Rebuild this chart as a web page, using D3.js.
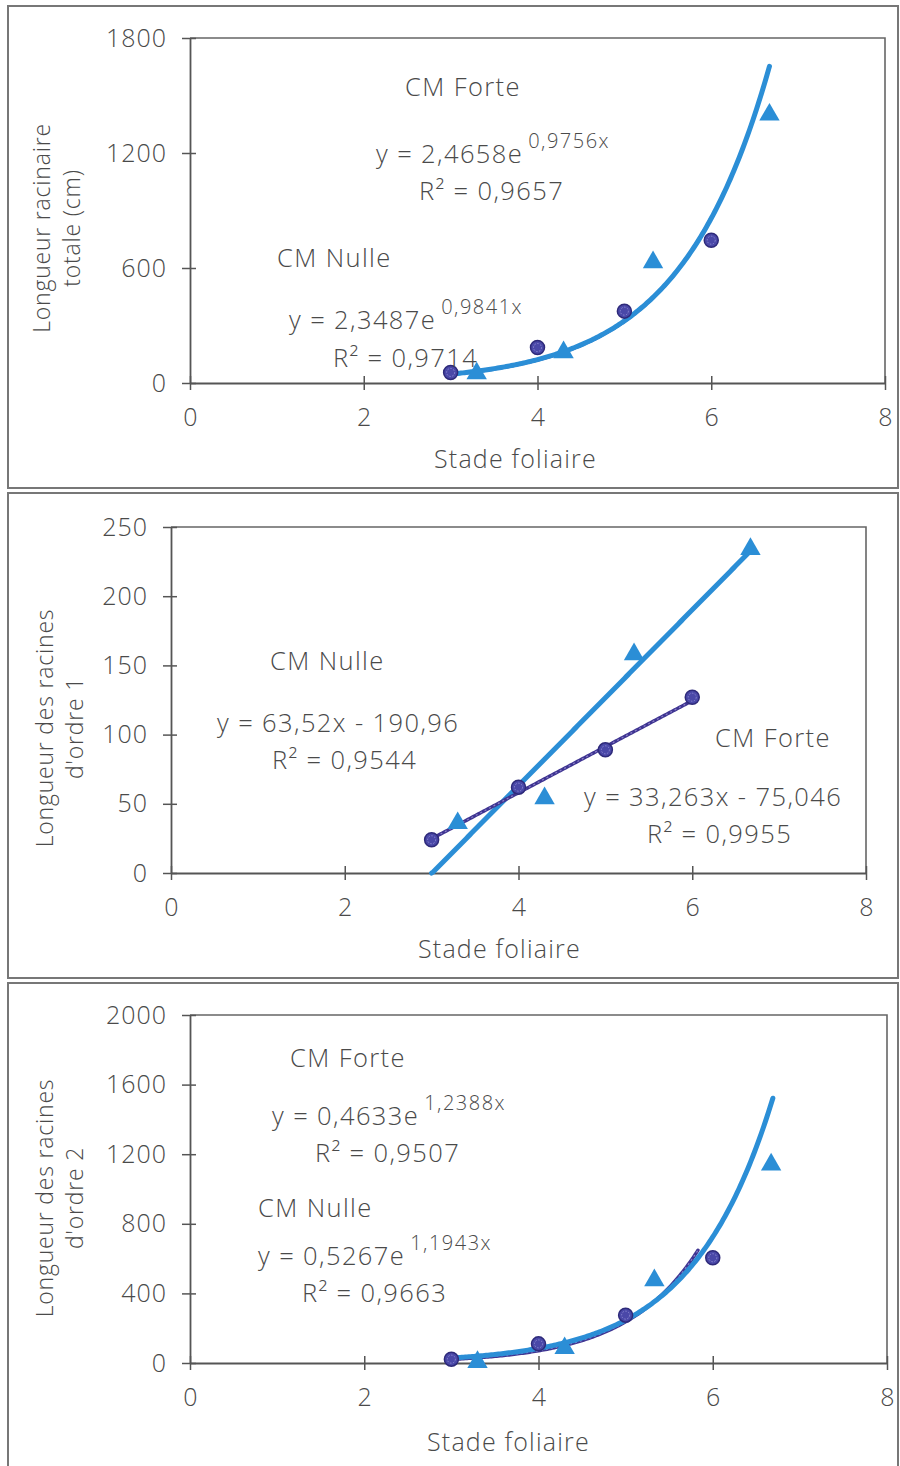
<!DOCTYPE html>
<html><head><meta charset="utf-8">
<script src="https://cdn.jsdelivr.net/npm/d3@7"></script>
<style>
body{margin:0;background:#fff}
svg{display:block}
text{font-family:"Open Sans",sans-serif;font-weight:300;fill:#4a4a4a}
</style>
</head><body>
<svg id="c" width="900" height="1466"></svg>
<script>
// ---------- data ----------
const xTicks = [0, 2, 4, 6, 8];
const nulleX = [3, 4, 5, 6];
const forteX = [3.3, 4.3, 5.33, 6.67];

const totalNulle = [55, 185, 375, 745];
const totalForte = [50, 160, 630, 1400];
const ordre1Nulle = [24, 62, 89, 127];
const ordre1Forte = [36, 54, 158, 234];
const ordre2Nulle = [22, 110, 275, 605];
const ordre2Forte = [5, 85, 475, 1140];

const yTicksTotal = [0, 600, 1200, 1800];
const yTicksOrdre1 = [0, 50, 100, 150, 200, 250];
const yTicksOrdre2 = [0, 400, 800, 1200, 1600, 2000];

// trend lines (as drawn)
const trendTotalForte = {type: "exp", a: 2.4658, b: 0.9756, from: 3, to: 6.67};
const trendTotalNulle = {type: "exp", a: 2.3487, b: 0.9841, from: 3, to: 6};
const trendOrdre1Blue = {type: "lin", a: 63.52, b: -190.96, from: 3, to: 6.67};
const trendOrdre1Purple = {type: "lin", a: 33.263, b: -75.046, from: 3, to: 6};
const trendOrdre2Forte = {type: "exp", a: 1.138, b: 1.076, from: 3, to: 6.69};
const trendOrdre2Nulle = {type: "exp", a: 0.55, b: 1.213, from: 3, to: 5.83};

const xTitle = "Stade foliaire";

// ---------- drawing ----------
const svg = d3.select("#c");
svg.append("rect").attr("width", 900).attr("height", 1466).attr("fill", "#fff");

const BLUE = "#2b8ed6", PURPLE = "#3f3592", CIRC = "#4a48a8";

// panel frames
[[6, 488], [493, 978], [983, 1470]].forEach(([y0, y1]) => {
  svg.append("rect").attr("x", 8).attr("y", y0).attr("width", 890).attr("height", y1 - y0)
    .attr("fill", "none").attr("stroke", "#777").attr("stroke-width", 2);
});

function trendPoints(t) {
  const xs = d3.range(t.from, t.to, 0.02).concat([t.to]);
  return xs.map(x => [x, t.type === "exp" ? t.a * Math.exp(t.b * x) : t.a * x + t.b]);
}

function panel(o) {
  const g = svg.append("g");
  const x = d3.scaleLinear().domain([0, 8]).range([o.left, o.right]);
  const y = d3.scaleLinear().domain([0, o.yMax]).range([o.bottom, o.top]);

  // top & right frame of plot
  g.append("path").attr("d", `M${o.left},${o.top}H${o.right}V${o.bottom}`)
    .attr("fill", "none").attr("stroke", "#666").attr("stroke-width", 1.6);

  // x axis
  const xa = g.append("g").attr("transform", `translate(0,${o.bottom})`)
    .call(d3.axisBottom(x).tickValues(xTicks).tickSize(0).tickPadding(25).tickFormat(d3.format("d")));
  xa.select(".domain").attr("stroke", "#555").attr("stroke-width", 1.8);
  xa.selectAll(".tick text").attr("font-size", 25).style("font-family", '"Open Sans",sans-serif')
    .style("font-weight", 300).attr("fill", "#4a4a4a");
  xa.selectAll(".tick").append("line").attr("y1", -7).attr("y2", 7).attr("stroke", "#555").attr("stroke-width", 1.5);

  // y axis
  const ya = g.append("g").attr("transform", `translate(${o.left},0)`)
    .call(d3.axisLeft(y).tickValues(o.yTicks).tickSize(0).tickPadding(23).tickFormat(d3.format("d")));
  ya.select(".domain").attr("stroke", "#555").attr("stroke-width", 1.8);
  ya.selectAll(".tick text").attr("font-size", 25).style("font-family", '"Open Sans",sans-serif')
    .style("font-weight", 300).style("letter-spacing", "1px").attr("fill", "#4a4a4a");
  ya.selectAll(".tick").append("line").attr("x1", -8).attr("x2", 6).attr("stroke", "#555").attr("stroke-width", 1.5);

  // axis titles
  g.append("text").attr("x", (o.left + o.right) / 2 + o.xTitleDx).attr("y", o.bottom + o.xTitleDy)
    .attr("text-anchor", "middle").attr("font-size", 25).style("letter-spacing", "1.2px").text(xTitle);
  o.yTitle.forEach((t, i) => {
    g.append("text").attr("transform", `translate(${o.yTitleX[i]},${o.yTitleY}) rotate(-90)`)
      .attr("text-anchor", "middle").attr("font-size", 23).style("letter-spacing", "0.8px")
      .attr("dy", "0.35em").text(t);
  });

  // trend lines
  const line = d3.line().x(d => x(d[0])).y(d => y(Math.max(0, d[1])));
  const drawBlue = () => g.append("path").attr("d", line(trendPoints(o.trendBlue))).attr("fill", "none")
    .attr("stroke", BLUE).attr("stroke-width", 5).attr("stroke-linecap", "round");
  const drawPurple = () => {
    g.append("path").attr("d", line(trendPoints(o.trendPurple))).attr("fill", "none")
      .attr("stroke", PURPLE).attr("stroke-width", 3.5).attr("stroke-linecap", "round");
    g.append("path").attr("d", line(trendPoints(o.trendPurple))).attr("fill", "none")
      .attr("stroke", "#8c80c8").attr("stroke-width", 1.2).attr("stroke-dasharray", "2,3");
  };
  if (o.purpleOnTop) { drawBlue(); drawPurple(); } else { drawPurple(); drawBlue(); }

  // markers
  const nulle = nulleX.map((v, i) => [v, o.nulle[i]]);
  const forte = forteX.map((v, i) => [v, o.forte[i]]);
  g.selectAll(".tri").data(forte).join("path")
    .attr("transform", d => `translate(${x(d[0])},${y(d[1])})`)
    .attr("d", d3.symbol(d3.symbolTriangle, 180)())
    .attr("fill", BLUE);
  g.selectAll(".cir").data(nulle).join("circle")
    .attr("cx", d => x(d[0])).attr("cy", d => y(d[1])).attr("r", 7)
    .attr("fill", CIRC).attr("stroke", "#2e2a7a").attr("stroke-width", 1.5);
  g.selectAll(".cir2").data(nulle).join("circle")
    .attr("cx", d => x(d[0])).attr("cy", d => y(d[1])).attr("r", 4)
    .attr("fill", "none").attr("stroke", "#8c88d0").attr("stroke-width", 1).attr("stroke-dasharray", "1.5,1.5");

  // annotations
  o.notes.forEach(n => {
    const t = g.append("text").attr("x", n.x).attr("y", n.y).attr("font-size", n.fs || 25.5)
      .style("letter-spacing", "1.4px").attr("text-anchor", n.anchor || "start");
    if (n.kind === "exp") {
      t.append("tspan").text(n.main);
      t.append("tspan").attr("dx", 5).attr("dy", -15).attr("font-size", 20)
        .style("letter-spacing", "1.5px").text(n.sup);
    } else if (n.kind === "r2") {
      t.text("R² = " + n.val);
    } else {
      t.text(n.text);
    }
  });
}

panel({
  left: 190, right: 885, top: 38, bottom: 383, yMax: 1800, yTicks: yTicksTotal,
  nulle: totalNulle, forte: totalForte, purpleOnTop: false,
  trendBlue: trendTotalForte, trendPurple: trendTotalNulle,
  xTitleDx: -22, xTitleDy: 85,
  yTitle: ["Longueur racinaire", "totale (cm)"], yTitleX: [42, 72], yTitleY: 228,
  notes: [
    {kind: "t", text: "CM Forte", x: 405, y: 96},
    {kind: "exp", main: "y = 2,4658e", sup: "0,9756x", x: 376, y: 163},
    {kind: "r2", val: "0,9657", x: 419, y: 200},
    {kind: "t", text: "CM Nulle", x: 277, y: 267},
    {kind: "exp", main: "y = 2,3487e", sup: "0,9841x", x: 289, y: 329},
    {kind: "r2", val: "0,9714", x: 333, y: 367}
  ]
});

panel({
  left: 171, right: 866, top: 527, bottom: 873, yMax: 250, yTicks: yTicksOrdre1,
  nulle: ordre1Nulle, forte: ordre1Forte, purpleOnTop: true,
  trendBlue: trendOrdre1Blue, trendPurple: trendOrdre1Purple,
  xTitleDx: -19, xTitleDy: 85,
  yTitle: ["Longueur des racines", "d'ordre 1"], yTitleX: [45, 75], yTitleY: 728,
  notes: [
    {kind: "t", text: "CM Nulle", x: 270, y: 670},
    {kind: "t", text: "y = 63,52x - 190,96", x: 217, y: 732},
    {kind: "r2", val: "0,9544", x: 272, y: 769},
    {kind: "t", text: "CM Forte", x: 715, y: 747},
    {kind: "t", text: "y = 33,263x - 75,046", x: 584, y: 806},
    {kind: "r2", val: "0,9955", x: 647, y: 843}
  ]
});

panel({
  left: 190, right: 887, top: 1015, bottom: 1363, yMax: 2000, yTicks: yTicksOrdre2,
  nulle: ordre2Nulle, forte: ordre2Forte, purpleOnTop: false,
  trendBlue: trendOrdre2Forte, trendPurple: trendOrdre2Nulle,
  xTitleDx: -30, xTitleDy: 88,
  yTitle: ["Longueur des racines", "d'ordre 2"], yTitleX: [45, 75], yTitleY: 1198,
  notes: [
    {kind: "t", text: "CM Forte", x: 290, y: 1067},
    {kind: "exp", main: "y = 0,4633e", sup: "1,2388x", x: 272, y: 1125},
    {kind: "r2", val: "0,9507", x: 315, y: 1162},
    {kind: "t", text: "CM Nulle", x: 258, y: 1217},
    {kind: "exp", main: "y = 0,5267e", sup: "1,1943x", x: 258, y: 1265},
    {kind: "r2", val: "0,9663", x: 302, y: 1302}
  ]
});
</script>
</body></html>
